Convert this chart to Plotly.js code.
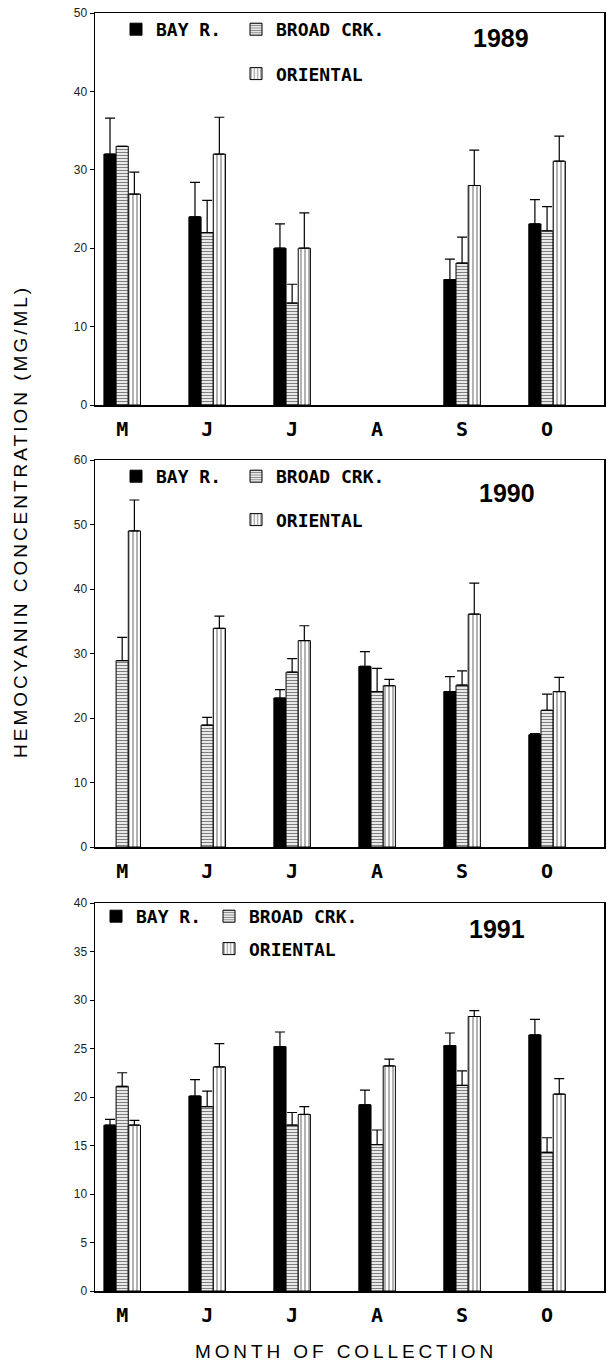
<!DOCTYPE html>
<html><head><meta charset="utf-8">
<script src="https://cdn.plot.ly/plotly-3.0.1.min.js"></script>
<style>html,body{margin:0;padding:0;background:#fff}#chart{width:608px;height:1362px}</style>
</head><body><div id="chart"></div>
<script>
// ---- data ----
const monthLabels = ['M','J','J','A','S','O'];
const seriesNames = ['BAY R.','BROAD CRK.','ORIENTAL'];
const years = ['1989','1990','1991'];

const bay1989 = [32.0, 24.0, 20.0, null, 16.0, 23.1];
const bay1989Err = [4.6, 4.4, 3.1, null, 2.6, 3.1];
const broad1989 = [33.0, 22.0, 13.0, null, 18.1, 22.2];
const broad1989Err = [0, 4.1, 2.4, null, 3.3, 3.1];
const ori1989 = [26.9, 32.0, 20.0, null, 28.0, 31.1];
const ori1989Err = [2.8, 4.7, 4.5, null, 4.5, 3.2];

const bay1990 = [null, null, 23.1, 28.0, 24.1, 17.4];
const bay1990Err = [null, null, 1.3, 2.3, 2.3, 0.2];
const broad1990 = [28.9, 18.9, 27.1, 24.1, 25.1, 21.2];
const broad1990Err = [3.6, 1.2, 2.1, 3.6, 2.2, 2.5];
const ori1990 = [49.0, 33.9, 32.0, 25.0, 36.1, 24.1];
const ori1990Err = [4.8, 1.9, 2.3, 1.0, 4.8, 2.2];

const bay1991 = [17.1, 20.1, 25.2, 19.2, 25.3, 26.4];
const bay1991Err = [0.6, 1.7, 1.5, 1.5, 1.3, 1.6];
const broad1991 = [21.1, 19.0, 17.1, 15.1, 21.2, 14.3];
const broad1991Err = [1.4, 1.6, 1.3, 1.5, 1.5, 1.5];
const ori1991 = [17.1, 23.1, 18.2, 23.2, 28.3, 20.3];
const ori1991Err = [0.5, 2.4, 0.8, 0.7, 0.6, 1.6];

const yMax = [50, 60, 40];
const yDtick = [10, 10, 5];

// ---- build ----
const W = 608, H = 1362, ML = 95, MR = 4;
const plotW = W - ML - MR;
const xIdx = monthLabels.map((_, i) => i);
const panels = [
  [bay1989, bay1989Err, broad1989, broad1989Err, ori1989, ori1989Err],
  [bay1990, bay1990Err, broad1990, broad1990Err, ori1990, ori1990Err],
  [bay1991, bay1991Err, broad1991, broad1991Err, ori1991, ori1991Err]
];
// layout geometry in pixels
const pix = [[13, 405], [460, 847], [903, 1291]];
const legRows = [[30, 73], [477, 519], [917, 948]];
const legX = [[155, 275], [155, 275], [135, 248]];
const yearPos = [[501, 38], [507, 493], [497, 929]];

const styles = [
  {color: 'black', pattern: {shape: ''}},
  {color: 'white', pattern: {shape: '-', fgcolor: 'black', bgcolor: 'white', size: 3, solidity: 0.45, fillmode: 'overlay'}},
  {color: 'white', pattern: {shape: '|', fgcolor: 'black', bgcolor: 'white', size: 4, solidity: 0.3, fillmode: 'overlay'}}
];

const traces = [];
const layout = {
  width: W, height: H,
  margin: {l: ML, r: MR, t: 0, b: 0},
  paper_bgcolor: 'white', plot_bgcolor: 'white',
  barmode: 'group', bargap: 0.57, bargroupgap: 0,
  showlegend: true,
  annotations: [],
  font: {family: 'Liberation Sans, Arial, sans-serif', color: 'black'}
};
const legFont = {family: 'DejaVu Sans Mono, monospace', size: 18, color: 'black', weight: 'bold'};

panels.forEach((p, k) => {
  const ax = k === 0 ? '' : String(k + 1);
  const legA = k === 0 ? 'legend' : 'legend' + (k * 2 + 1);
  const legB = 'legend' + (k * 2 + 2);
  for (let s = 0; s < 3; s++) {
    const vals = p[s * 2], errs = p[s * 2 + 1];
    traces.push({
      type: 'bar', x: xIdx, y: vals, name: seriesNames[s],
      xaxis: 'x' + ax, yaxis: 'y' + ax,
      legend: s === 0 ? legA : legB,
      legendgroup: 'g' + k + s,
      marker: {color: styles[s].color, pattern: styles[s].pattern, line: {color: 'black', width: 1}},
      error_y: {type: 'data', symmetric: false, array: errs, arrayminus: errs.map(() => 0),
                color: 'black', thickness: 1.2, width: 5, visible: true},
      hoverinfo: 'y'
    });
  }
  const top = pix[k][0], bot = pix[k][1];
  layout['xaxis' + ax] = {
    anchor: 'y' + ax, domain: [0, 1], range: [-0.32, 5.67],
    tickvals: xIdx, ticktext: monthLabels, ticks: '', ticklabelstandoff: 5,
    tickfont: {family: 'DejaVu Sans Mono, monospace', size: 20, color: 'black', weight: 'bold'},
    showline: true, mirror: true, linecolor: 'black', linewidth: 1.5,
    showgrid: false, zeroline: false, fixedrange: true
  };
  layout['yaxis' + ax] = {
    anchor: 'x' + ax, domain: [1 - bot / H, 1 - top / H], range: [0, yMax[k]], dtick: yDtick[k],
    ticks: 'outside', ticklen: 4, tickwidth: 1, tickcolor: 'black',
    tickfont: {family: 'Liberation Sans, Arial, sans-serif', size: 12, color: '#222'},
    showline: true, mirror: true, linecolor: 'black', linewidth: 1.5,
    showgrid: false, zeroline: false, fixedrange: true
  };
  const rowA = legRows[k][0], rowB = legRows[k][1];
  layout[legA] = {
    x: (legX[k][0] - 39 - ML) / plotW, xanchor: 'left', y: 1 - (rowA - 19) / H, yanchor: 'top',
    orientation: 'v', font: legFont, bgcolor: 'rgba(0,0,0,0)', borderwidth: 0, itemclick: false
  };
  layout[legB] = {
    x: (legX[k][1] - 39 - ML) / plotW, xanchor: 'left', y: 1 - (rowA - 19) / H, yanchor: 'top',
    orientation: 'v', traceorder: 'grouped', tracegroupgap: (rowB - rowA) - 25,
    font: legFont, bgcolor: 'rgba(0,0,0,0)', borderwidth: 0, itemclick: false
  };
  layout.annotations.push({
    text: years[k], xref: 'paper', yref: 'paper',
    x: (yearPos[k][0] - ML) / plotW, y: 1 - yearPos[k][1] / H, xanchor: 'center', yanchor: 'middle',
    showarrow: false, font: {family: 'Liberation Sans, Arial, sans-serif', size: 25, weight: 'bold', color: 'black'}
  });
});

layout.annotations.push({
  text: 'HEMOCYANIN CONCENTRATION (MG/ML)', xref: 'paper', yref: 'paper',
  x: (20 - ML) / plotW, y: 1 - 522 / H, xanchor: 'center', yanchor: 'middle', textangle: -90,
  showarrow: false, font: {family: 'Liberation Sans, Arial, sans-serif', size: 19, color: 'black'}
});
layout.annotations.push({
  text: 'MONTH OF COLLECTION', xref: 'paper', yref: 'paper',
  x: (346 - ML) / plotW, y: 1 - 1351 / H, xanchor: 'center', yanchor: 'middle',
  showarrow: false, font: {family: 'Liberation Sans, Arial, sans-serif', size: 19, color: 'black'}
});

const spacing = {'MONTH OF COLLECTION': '3.9px', 'HEMOCYANIN CONCENTRATION (MG/ML)': '3px'};
Plotly.newPlot('chart', traces, layout, {displayModeBar: false, staticPlot: true}).then(gd => {
  gd.querySelectorAll('g.annotation text').forEach(t => {
    const ls = spacing[t.textContent];
    if (ls) t.setAttribute('letter-spacing', ls);
  });
});
</script></body></html>
